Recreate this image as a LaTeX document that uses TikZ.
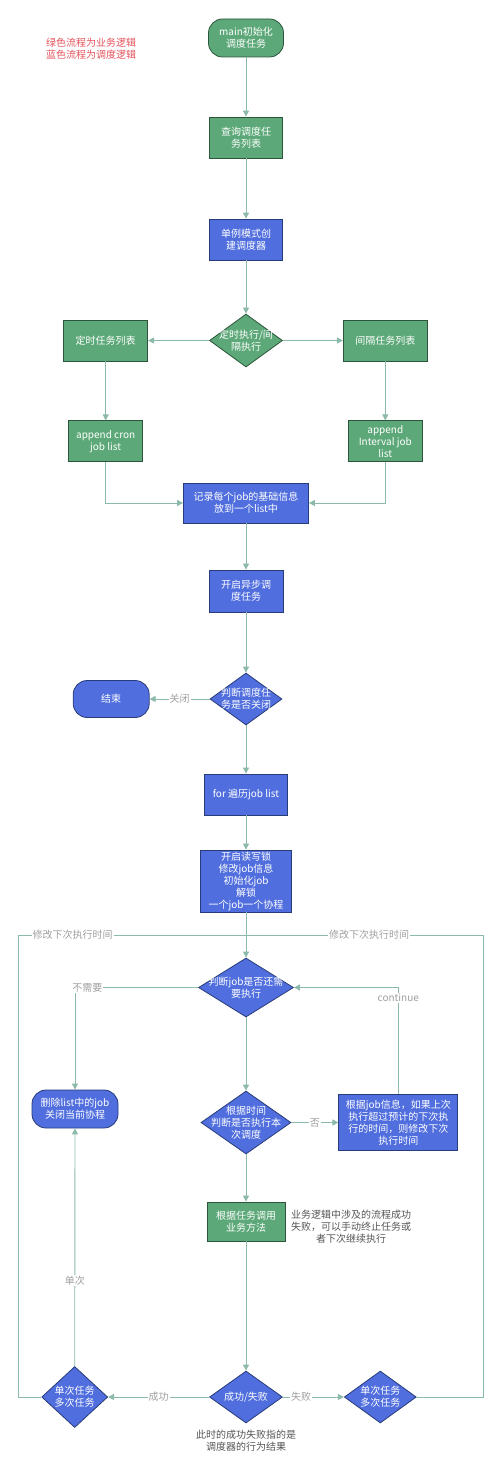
\documentclass[tikz,border=0pt]{standalone}
\usepackage{fontspec}
\setmainfont{Noto Sans CJK SC}
\usetikzlibrary{positioning,shapes.geometric,arrows.meta}
\definecolor{flowgreen}{RGB}{92,168,120}
\definecolor{flowblue}{RGB}{80,110,222}
\definecolor{rimgreen}{RGB}{45,85,60}
\definecolor{rimblue}{RGB}{40,60,120}
\definecolor{linec}{RGB}{140,186,170}
\definecolor{lblc}{RGB}{160,160,160}
\definecolor{notec}{RGB}{85,85,85}
\definecolor{legendc}{RGB}{228,82,92}

\begin{document}
\begin{tikzpicture}[x=1pt,y=-1pt,
  font=\fontsize{10}{12}\selectfont,
  box/.style={rectangle,draw,line width=0.8pt,text=white,align=center,inner sep=1pt},
  gbox/.style={box,fill=flowgreen,draw=rimgreen},
  bbox/.style={box,fill=flowblue,draw=rimblue},
  dia/.style={diamond,draw,line width=0.8pt,inner sep=0pt,
    label={[text=white,align=center]center:{#1}}},
  gdia/.style={dia={#1},fill=flowgreen,draw=rimgreen},
  bdia/.style={dia={#1},fill=flowblue,draw=rimblue},
  flow/.style={draw=linec,line width=0.9pt,-{Triangle[length=6pt,width=6pt]}},
  loopline/.style={draw=linec,line width=0.9pt},
  lbl/.style={fill=white,text=lblc,inner sep=1pt}]
\useasboundingbox (0,0) rectangle (500,1479);

\node[text=legendc,align=center] (legend) at (91,49) {绿色流程为业务逻辑\\蓝色流程为调度逻辑};

% main column
\node[gbox,rounded corners=14pt,minimum width=75pt,minimum height=38pt] (main) at (246,38) {main初始化\\调度任务};
\node[gbox,minimum width=73pt,minimum height=41pt] (query) at (246,137.5) {查询调度任\\务列表};
\node[bbox,minimum width=73pt,minimum height=41pt] (single) at (246,239.5) {单例模式创\\建调度器};
\node[gdia={定时执行/间\\隔执行},minimum width=73pt,minimum height=53pt] (kind) at (246,340.5) {};
\node[gbox,minimum width=84pt,minimum height=41pt,left=61pt of kind] (cronlist) {定时任务列表};
\node[gbox,minimum width=84pt,minimum height=41pt,right=60pt of kind] (intlist) {间隔任务列表};
\node[gbox,minimum width=74pt,minimum height=41pt,below=59pt of cronlist] (cronapp) {append cron\\job list};
\node[gbox,minimum width=74pt,minimum height=41pt,below=59pt of intlist] (intapp) {append\\Interval job\\list};
\node[bbox,minimum width=125pt,minimum height=40pt] (record) at (246,503) {记录每个job的基础信息\\放到一个list中};
\node[bbox,minimum width=74pt,minimum height=42pt] (async) at (246,591) {开启异步调\\度任务};
\node[bdia={判断调度任\\务是否关闭},minimum width=72pt,minimum height=52pt] (stop) at (246,699) {};
\node[bbox,rounded corners=14pt,minimum width=76pt,minimum height=37pt,left=60pt of stop] (finish) {结束};
\node[bbox,minimum width=83pt,minimum height=41pt] (loop) at (246,794.5) {for 遍历job list};
\node[bbox,minimum width=91pt,minimum height=62pt] (lock) at (246,881) {开启读写锁\\修改job信息\\初始化job\\解锁\\一个job一个协程};
\node[bdia={判断job是否还需\\要执行},minimum width=95pt,minimum height=59pt] (need) at (246,987.5) {};
\node[bdia={根据时间\\判断是否执行本\\次调度},minimum width=90pt,minimum height=63pt] (due) at (246,1122.5) {};
\node[bbox,rounded corners=14pt,minimum width=86pt,minimum height=38pt] (remove) at (75,1109) {删除list中的job\\关闭当前协程};
\node[bbox,minimum width=119pt,minimum height=56pt,right=47pt of due] (adjust) {根据job信息，如果上次\\执行超过预计的下次执\\行的时间，则修改下次\\执行时间};
\node[gbox,minimum width=78pt,minimum height=39pt] (call) at (246,1221.5) {根据任务调用\\业务方法};
\node[text=notec,align=center] (callnote) at (351,1227) {业务逻辑中涉及的流程成功\\失败，可以手动终止任务或\\者下次继续执行};
\node[bdia={成功/失败},minimum width=73pt,minimum height=52pt] (result) at (246,1397) {};
\node[bdia={单次任务\\多次任务},minimum width=66pt,minimum height=61pt,left=101pt of result] (once) {};
\node[bdia={单次任务\\多次任务},minimum width=72pt,minimum height=52pt,right=61pt of result] (many) {};
\node[text=notec,align=center,below=3pt of result] (resnote) {此时的成功失败指的是\\调度器的行为结果};

\coordinate (merge) at (246,935);
\coordinate (lturn) at (18,1397);
\coordinate (rturn) at (483,1397);

\path (main) edge[flow] (query);
\path (query) edge[flow] (single);
\path (single) edge[flow] (kind);
\path (kind) edge[flow] (cronlist);
\path (kind) edge[flow] (intlist);
\path (cronlist) edge[flow] (cronapp);
\path (intlist) edge[flow] (intapp);
\draw[flow] (cronapp.south) |- (record.west);
\draw[flow] (intapp.south) |- (record.east);
\path (record) edge[flow] (async);
\path (async) edge[flow] (stop);
\path (stop) edge[flow] node[lbl]{关闭} (finish);
\path (stop) edge[flow] (loop);
\path (loop) edge[flow] (lock);
\path (lock) edge[flow] (need);
\draw[flow] (need.west) -| node[lbl,pos=0.45]{不需要} (remove.north);
\path (need) edge[flow] (due);
\path (due) edge[flow] node[lbl]{否} (adjust);
\draw[flow] (adjust.north) |- node[lbl,pos=0.45]{continue} (need.east);
\path (due) edge[flow] (call);
\path (call) edge[flow] (result);
\path (result) edge[flow] node[lbl]{成功} (once);
\path (result) edge[flow] node[lbl,pos=0.3]{失败} (many);
\draw[flow] (once.north) -- node[lbl,pos=0.36]{单次} (remove.south);
\draw[loopline] (once.west) -- (once.west -| lturn) |- node[lbl,pos=0.62]{修改下次执行时间} (merge);
\draw[loopline] (many.east) -- (many.east -| rturn) |- node[lbl,pos=0.74]{修改下次执行时间} (merge);

\end{tikzpicture}
\end{document}
